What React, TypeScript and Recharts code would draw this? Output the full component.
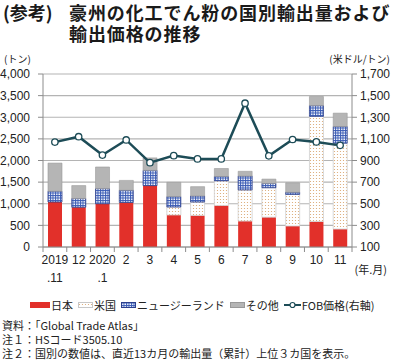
import React from "react";
import {
  ComposedChart,
  Bar,
  Line,
  XAxis,
  YAxis,
  CartesianGrid,
} from "recharts";

const categories = ["2019\n.11", "12", "2020\n.1", "2", "3", "4", "5", "6", "7", "8", "9", "10", "11"];
const japan = [1040, 920, 1000, 1030, 1420, 740, 730, 960, 600, 690, 485, 590, 415];
const usa = [0, 0, 0, 0, 0, 185, 310, 570, 720, 680, 730, 2430, 1985];
const newZealand = [250, 200, 350, 280, 350, 240, 140, 100, 320, 100, 50, 250, 385];
const others = [650, 300, 500, 230, 290, 330, 215, 185, 110, 100, 220, 210, 310];
const fobPrice = [1070, 1120, 950, 1090, 880, 945, 915, 915, 1430, 943, 1094, 1072, 1040];

const leftTicks = [0, 500, 1000, 1500, 2000, 2500, 3000, 3500, 4000];
const rightTicks = [100, 300, 500, 700, 900, 1100, 1300, 1500, 1700];

const data = categories.map((c, i) => ({
  cat: c,
  japan: japan[i],
  usa: usa[i],
  nz: newZealand[i],
  others: others[i],
  fob: fobPrice[i],
}));

const FONT = '"Liberation Sans", "Noto Sans CJK JP", sans-serif';
const JFONT = '"Noto Sans CJK JP", sans-serif';
const RED = "#e2302a";
const GRAY = "#b5b5b5";
const LINE = "#1d4c57";
const NAVY = "#2c3f8c";

const CHART_W = 393;
const PLOT_LEFT = 43;
const PLOT_RIGHT_W = 41;
const BAND = (CHART_W - PLOT_LEFT - PLOT_RIGHT_W) / categories.length;

const XTick = (props: any) => {
  const { x, y, payload, index } = props;
  const lines = String(payload.value).split("\n");
  const isLast = index === categories.length - 1;
  return (
    <g>
      <line x1={x - BAND / 2} x2={x - BAND / 2} y1={y} y2={y + 5} stroke="#8c8c8c" strokeWidth={1} />
      {isLast && (
        <line x1={x + BAND / 2} x2={x + BAND / 2} y1={y} y2={y + 5} stroke="#8c8c8c" strokeWidth={1} />
      )}
      {lines.map((l, i) => (
        <text
          key={i}
          x={x}
          y={y + 17 + i * 18}
          textAnchor="middle"
          fontSize={12}
          fontFamily={FONT}
          fill="#222"
        >
          {l}
        </text>
      ))}
    </g>
  );
};

const fmt = (v: number) => v.toLocaleString("en-US");

const LegendSwatch = ({ kind }: { kind: string }) => {
  if (kind === "line") {
    return (
      <svg width={17} height={10} style={{ display: "block", flex: "none" }}>
        <line x1={0} x2={17} y1={5} y2={5} stroke={LINE} strokeWidth={2} />
        <circle cx={8.5} cy={5} r={2.5} fill="#fff" stroke={LINE} strokeWidth={1.2} />
      </svg>
    );
  }
  const w = kind === "japan" ? 20 : 15;
  const fill =
    kind === "japan" ? RED : kind === "usa" ? "url(#dotsLegend)" : kind === "nz" ? "url(#gridLegend)" : GRAY;
  const stroke = kind === "japan" ? RED : kind === "usa" ? "#c8c8c8" : kind === "nz" ? NAVY : "#999";
  return (
    <svg width={w} height={10} style={{ display: "block", flex: "none" }}>
      <defs>
        <pattern id="dotsLegend" width="3" height="3" patternUnits="userSpaceOnUse">
          <rect width="3" height="3" fill="#fff" />
          <circle cx="1.5" cy="1.5" r="0.6" fill="#d9a46c" />
        </pattern>
        <pattern id="gridLegend" width="2.5" height="2.5" patternUnits="userSpaceOnUse">
          <rect width="2.5" height="2.5" fill="#fff" />
          <path d="M0 0.5 H2.5 M0.5 0 V2.5" stroke="#3a5bb5" strokeWidth="1" />
        </pattern>
      </defs>
      <rect x={0.5} y={2.5} width={w - 1} height={5} fill={fill} stroke={stroke} strokeWidth={1} />
    </svg>
  );
};

const legendItems = [
  { kind: "japan", label: "日本" },
  { kind: "usa", label: "米国" },
  { kind: "nz", label: "ニュージーランド" },
  { kind: "others", label: "その他" },
  { kind: "line", label: "FOB価格(右軸)" },
];

export default function App() {
  return (
    <div
      style={{
        position: "absolute",
        left: 0,
        top: 0,
        width: 393,
        height: 361,
        background: "#fff",
        fontFamily: JFONT,
        color: "#222",
        overflow: "hidden",
      }}
    >
      <div
        style={{
          position: "absolute",
          left: 3,
          top: 2,
          fontSize: 18,
          fontWeight: 700,
          lineHeight: "21px",
          whiteSpace: "nowrap",
          color: "#1a1a1a",
        }}
      >
        (参考)
      </div>
      <div
        style={{
          position: "absolute",
          left: 69,
          top: 2,
          fontSize: 18,
          fontWeight: 700,
          lineHeight: "21px",
          letterSpacing: 0.9,
          whiteSpace: "nowrap",
          color: "#1a1a1a",
        }}
      >
        豪州の化工でん粉の国別輸出量および
        <br />
        輸出価格の推移
      </div>
      <div style={{ position: "absolute", left: 4, top: 51, fontSize: 10, whiteSpace: "nowrap" }}>(トン)</div>
      <div style={{ position: "absolute", right: 3, top: 51, fontSize: 10, whiteSpace: "nowrap" }}>
        (米ドル/トン)
      </div>

      <div style={{ position: "absolute", left: 0, top: 0 }}>
        <ComposedChart
          width={CHART_W}
          height={290}
          data={data}
          margin={{ top: 74, right: 0, bottom: 5, left: 0 }}
          barCategoryGap="21%"
        >
          <defs>
            <pattern id="dots" width="3" height="3" patternUnits="userSpaceOnUse">
              <rect width="3" height="3" fill="#fff" />
              <circle cx="1.5" cy="1.5" r="0.6" fill="#d9a46c" />
            </pattern>
            <pattern id="gridPat" width="2.5" height="2.5" patternUnits="userSpaceOnUse">
              <rect width="2.5" height="2.5" fill="#fff" />
              <path d="M0 0.5 H2.5 M0.5 0 V2.5" stroke="#3a5bb5" strokeWidth="1" />
            </pattern>
          </defs>
          <CartesianGrid yAxisId="left" vertical={false} stroke="#b4b4b4" strokeWidth={1.2} />
          <XAxis
            dataKey="cat"
            interval={0}
            tickSize={0}
            tickMargin={0}
            height={38}
            tick={<XTick />}
            axisLine={{ stroke: "#8c8c8c", strokeWidth: 1 }}
          />
          <YAxis
            yAxisId="left"
            orientation="left"
            width={PLOT_LEFT}
            domain={[0, 4000]}
            ticks={leftTicks}
            tickFormatter={fmt}
            tickSize={5}
            tickMargin={8}
            axisLine={{ stroke: "#8c8c8c" }}
            tickLine={{ stroke: "#8c8c8c" }}
            tick={{ fontSize: 12, fontFamily: FONT, fill: "#222" }}
            interval={0}
          />
          <YAxis
            yAxisId="right"
            orientation="right"
            width={PLOT_RIGHT_W}
            domain={[100, 1700]}
            ticks={rightTicks}
            tickFormatter={fmt}
            tickSize={5}
            tickMargin={3}
            axisLine={{ stroke: "#8c8c8c" }}
            tickLine={{ stroke: "#8c8c8c" }}
            tick={{ fontSize: 12, fontFamily: FONT, fill: "#222" }}
            interval={0}
          />
          <Bar yAxisId="left" dataKey="japan" stackId="a" fill={RED} isAnimationActive={false} />
          <Bar
            yAxisId="left"
            dataKey="usa"
            stackId="a"
            fill="url(#dots)"
            stroke="#cfcfcf"
            strokeWidth={0.8}
            isAnimationActive={false}
          />
          <Bar
            yAxisId="left"
            dataKey="nz"
            stackId="a"
            fill="url(#gridPat)"
            stroke={NAVY}
            strokeWidth={0.8}
            isAnimationActive={false}
          />
          <Bar
            yAxisId="left"
            dataKey="others"
            stackId="a"
            fill={GRAY}
            stroke="#9a9a9a"
            strokeWidth={0.6}
            isAnimationActive={false}
          />
          <Line
            yAxisId="right"
            dataKey="fob"
            type="linear"
            stroke={LINE}
            strokeWidth={2.5}
            dot={{ r: 3.2, fill: "#fff", stroke: LINE, strokeWidth: 1.3 }}
            isAnimationActive={false}
          />
        </ComposedChart>
      </div>

      <div
        style={{
          position: "absolute",
          right: 6,
          top: 261,
          fontSize: 11,
          whiteSpace: "nowrap",
        }}
      >
        (年.月)
      </div>

      <div
        style={{
          position: "absolute",
          left: 30,
          top: 297,
          width: "max-content",
          display: "flex",
          alignItems: "center",
          fontSize: 11,
          lineHeight: "16px",
          whiteSpace: "nowrap",
        }}
      >
        {legendItems.map((it, i) => (
          <div
            key={i}
            style={{
              display: "flex",
              alignItems: "center",
              flex: "none",
              marginRight: i === legendItems.length - 1 ? 0 : 5,
            }}
          >
            <LegendSwatch kind={it.kind} />
            <span style={{ marginLeft: 1 }}>{it.label}</span>
          </div>
        ))}
      </div>

      <div
        style={{
          position: "absolute",
          left: 2,
          top: 318,
          fontSize: 11,
          lineHeight: "14px",
          whiteSpace: "nowrap",
        }}
      >
        <div>資料：「Global Trade Atlas」</div>
        <div>注１：HSコード3505.10</div>
        <div>注２：国別の数値は、直近13カ月の輸出量（累計）上位３カ国を表示。</div>
      </div>
    </div>
  );
}
